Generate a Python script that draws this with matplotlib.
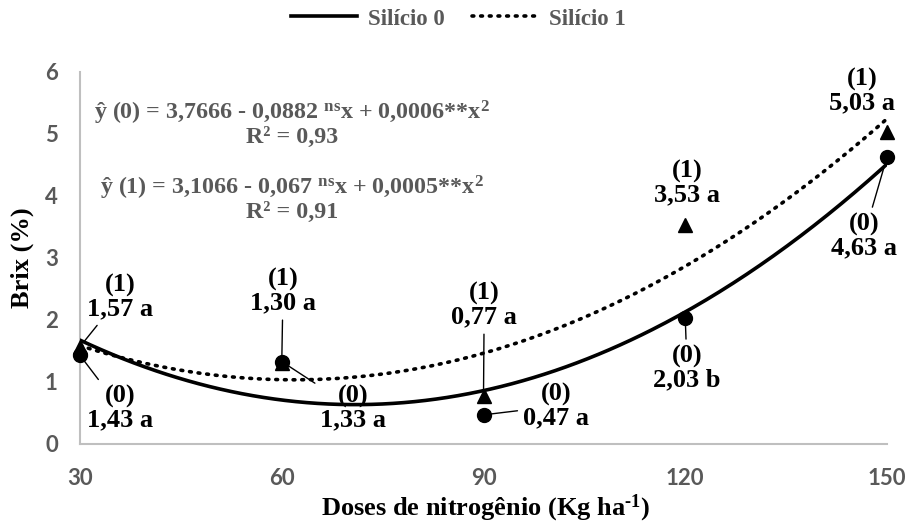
import numpy as np
import matplotlib
matplotlib.use("Agg")
import matplotlib.pyplot as plt
from matplotlib.lines import Line2D

plt.rcParams["mathtext.fontset"] = "custom"
plt.rcParams["mathtext.rm"] = "Liberation Serif:bold"
plt.rcParams["mathtext.bf"] = "Liberation Serif:bold"
plt.rcParams["mathtext.it"] = "Liberation Serif:bold:italic"

# Nitrogen doses and Brix readings for both silicon levels
doses = [30, 60, 90, 120, 150]
brix_si0 = [1.43, 1.33, 0.47, 2.03, 4.63]
brix_si1 = [1.57, 1.30, 0.77, 3.53, 5.03]
letters_si0 = ["a", "a", "a", "b", "a"]
letters_si1 = ["a", "a", "a", "a", "a"]
series_names = ["Silício 0", "Silício 1"]
x_ticks = [30, 60, 90, 120, 150]
y_ticks = [0, 1, 2, 3, 4, 5, 6]

eq0 = "ŷ (0) = 3,7666 - 0,0882 $^{\\mathrm{ns}}$x + 0,0006**x$^{\\mathrm{2}}$"
r2_0 = "R² = 0,93"
eq1 = "ŷ (1) = 3,1066 - 0,067 $^{\\mathrm{ns}}$x + 0,0005**x$^{\\mathrm{2}}$"
r2_1 = "R² = 0,91"

# label offsets (points) relative to each marker, and whether a leader line is drawn
off_si0 = [(28.8, -37.9), (51.3, -33.5), (52.2, 6.3), (1.3, -36.0), (-16.6, -57.0)]
lead_si0 = [True, True, True, True, True]
off_si1 = [(28.8, 35.8), (0.9, 52.1), (0.5, 65.6), (1.3, 30.3), (-18.0, 29.6)]
lead_si1 = [True, True, True, False, False]

W, H = 909, 527
fig = plt.figure(figsize=(W / 100, H / 100), dpi=100)
ax = fig.add_axes([80 / W, 1 - 444 / H, (887 - 80) / W, (444 - 72) / H])

serif = "Liberation Serif"
gray = "#595959"
dots = (0, (0.5, 1.9))

# quadratic trend lines fitted to each series
xs = np.linspace(30, 150, 300)
c0 = np.polyfit(doses, brix_si0, 2)
c1 = np.polyfit(doses, brix_si1, 2)
ax.plot(xs, np.polyval(c0, xs), color="black", lw=2.6, solid_capstyle="round", zorder=3)
ax.plot(xs, np.polyval(c1, xs), color="black", lw=2.6, linestyle=dots,
        dash_capstyle="round", zorder=3)

ax.plot(doses, brix_si0, "o", color="black", ms=10, zorder=4, clip_on=False)
ax.plot(doses, brix_si1, "^", color="black", ms=9.5, zorder=4, clip_on=False)

def label(x, y, tag, val, letter, off, lead):
    txt = f"({tag})\n{val:.2f}".replace(".", ",") + f" {letter}"
    kw = dict(xy=(x, y), xytext=off, textcoords="offset points", ha="center", va="center",
              fontsize=19, fontfamily=serif, fontweight="bold", color="black",
              linespacing=1.05, zorder=5, annotation_clip=False)
    if lead:
        kw["arrowprops"] = dict(arrowstyle="-", color="black", lw=1.0, shrinkA=2, shrinkB=5)
    ax.annotate(txt, **kw)

for i, x in enumerate(doses):
    label(x, brix_si0[i], 0, brix_si0[i], letters_si0[i], off_si0[i], lead_si0[i])
    label(x, brix_si1[i], 1, brix_si1[i], letters_si1[i], off_si1[i], lead_si1[i])

# regression equations
for txt, ypx in [(eq0, 113), (r2_0, 137), (eq1, 188), (r2_1, 212)]:
    fig.text(292 / W, 1 - ypx / H, txt, ha="center", va="center", fontsize=17.3,
             fontfamily=serif, fontweight="bold", color=gray)

ax.set_xlim(30, 150)
ax.set_ylim(0, 6)
ax.set_xticks(x_ticks)
ax.set_yticks(y_ticks)
ax.tick_params(length=0, labelsize=16, labelcolor=gray)
ax.tick_params(axis="x", pad=17)
ax.tick_params(axis="y", pad=16)
for t in ax.get_xticklabels() + ax.get_yticklabels():
    t.set_fontfamily("Lato")
    t.set_fontweight("bold")
for s in ["top", "right"]:
    ax.spines[s].set_visible(False)
for s in ["left", "bottom"]:
    ax.spines[s].set_color("#BFBFBF")
    ax.spines[s].set_linewidth(1.5)

fig.text(486 / W, 1 - 508 / H, "Doses de nitrogênio (Kg ha$^{\\text{-1}}$)", ha="center",
         va="center", fontsize=19, fontfamily=serif, fontweight="bold")
fig.text(22 / W, 1 - 258 / H, "Brix (%)", ha="center", va="center", rotation=90,
         fontsize=19, fontfamily=serif, fontweight="bold")

handles = [Line2D([], [], color="black", lw=2.6),
           Line2D([], [], color="black", lw=2.6, linestyle=dots, dash_capstyle="round")]
leg = fig.legend(handles, series_names, loc="center", bbox_to_anchor=(458 / W, 1 - 19 / H),
                 ncol=2, frameon=False, handlelength=2.9, handletextpad=0.45, columnspacing=1.2,
                 prop={"family": serif, "weight": "bold", "size": 16.5})
for t in leg.get_texts():
    t.set_color(gray)

fig.savefig("out.png", dpi=100)
